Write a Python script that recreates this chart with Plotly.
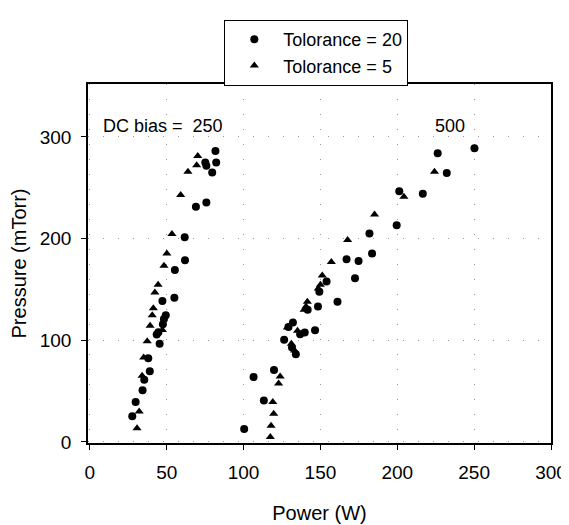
import plotly.graph_objects as go

# Tolerance = 20 (circles)
tol20_power = [27.6, 29.8, 34.3, 35.4, 38.0, 39.0, 43.5, 44.6, 45.4, 47.2, 47.5, 48.2, 49.4,
               55.0, 55.3, 61.7, 61.9, 69.0, 75.8, 75.1, 75.8, 79.6, 81.7, 82.2,
               100.4, 106.5, 113.2, 119.8, 126.4, 129.2, 132.1, 131.5, 134.0, 136.8, 139.8,
               146.5, 148.4, 141.7, 149.3, 154.0, 161.1, 167.0, 172.5, 174.8, 181.9, 183.6,
               199.6, 201.3, 216.6, 226.3, 232.2, 250.2]
tol20_pressure = [25.2, 39.3, 50.8, 61.3, 82.4, 69.6, 105.8, 108.0, 96.5, 138.7, 115.7, 121.0, 124.6,
                  141.9, 169.0, 201.3, 178.6, 231.3, 235.5, 274.8, 271.6, 264.9, 286.0, 274.8,
                  12.8, 63.9, 40.9, 70.9, 100.6, 113.1, 117.6, 93.0, 86.3, 106.0, 107.7,
                  109.9, 133.2, 130.0, 147.6, 157.8, 138.0, 179.6, 161.0, 178.0, 205.0, 185.3,
                  213.1, 246.6, 244.1, 284.0, 264.5, 288.8]

# Tolerance = 5 (triangles)
tol5_power = [30.7, 32.1, 34.0, 35.0, 37.3, 39.2, 40.6, 41.3, 42.3, 44.4, 47.2, 48.2, 50.1,
              53.4, 59.1, 63.8, 69.5, 70.2,
              117.4, 117.9, 119.0, 119.6, 122.8, 123.8, 128.5, 131.1, 133.2, 135.1, 139.4,
              140.6, 141.5, 148.6, 150.0, 151.2, 157.1, 167.7, 185.2, 204.3, 224.2]
tol5_pressure = [13.4, 30.0, 65.2, 83.0, 99.0, 114.4, 124.6, 131.6, 147.0, 154.6, 110.0, 173.2, 185.3,
                 204.5, 242.8, 265.8, 272.2, 281.2,
                 4.8, 16.0, 39.3, 27.8, 57.5, 64.5, 112.5, 96.5, 90.0, 109.3, 130.0,
                 133.2, 138.0, 150.8, 154.6, 163.6, 177.0, 198.7, 223.6, 241.2, 265.8]

x_ticks = [0, 50, 100, 150, 200, 250, 300]
y_ticks = [0, 100, 200, 300]
labels = ["Tolorance = 20", "Tolorance = 5"]
annotations_text = ["DC bias = \u00a0250", "500"]

FONT = "Arial, Liberation Sans, Helvetica, sans-serif"

fig = go.Figure()
fig.add_trace(go.Scatter(
    x=tol20_power, y=tol20_pressure, mode="markers", name=labels[0],
    marker=dict(symbol="circle", size=8, color="black"),
))
fig.add_trace(go.Scatter(
    x=tol5_power, y=tol5_pressure, mode="markers", name=labels[1],
    marker=dict(symbol="triangle-up", size=8, color="black"),
))

axis_common = dict(
    showline=True, linecolor="black", linewidth=1.5, mirror=True,
    ticks="outside", ticklen=5, tickwidth=1.2, tickcolor="black",
    showgrid=True, gridcolor="#9a9a9a", gridwidth=1, griddash="1px,14px",
    zeroline=False, automargin=False,
    tickfont=dict(family=FONT, size=19, color="black"),
    ticklabelstandoff=6,
)

# the page body adds an 8px offset; the figure is sized to fill the rest of the window
fig.update_layout(
    width=561, height=517,
    paper_bgcolor="white", plot_bgcolor="white",
    margin=dict(l=80, r=18, t=67, b=82),
    font=dict(family=FONT, color="black"),
    showlegend=True,
    legend=dict(
        x=0.294, y=1.179, xanchor="left", yanchor="top",
        bordercolor="black", borderwidth=1.2, bgcolor="white",
        font=dict(family=FONT, size=18, color="black"),
        itemwidth=48,
    ),
    xaxis=dict(
        range=[-1.2, 300], tickvals=x_ticks,
        title=dict(text="Power (W)", font=dict(family=FONT, size=20), standoff=24),
        **axis_common,
    ),
    yaxis=dict(
        range=[-1, 352], tickvals=y_ticks,
        title=dict(text="Pressure (mTorr)", font=dict(family=FONT, size=20), standoff=10),
        **axis_common,
    ),
    annotations=[
        dict(x=7, y=311, xref="x", yref="y", text=annotations_text[0], showarrow=False,
             xanchor="left", yanchor="middle", font=dict(family=FONT, size=18, color="black")),
        dict(x=234, y=311, xref="x", yref="y", text=annotations_text[1], showarrow=False,
             xanchor="center", yanchor="middle", font=dict(family=FONT, size=18, color="black")),
    ],
)

fig.write_html("out.html")
